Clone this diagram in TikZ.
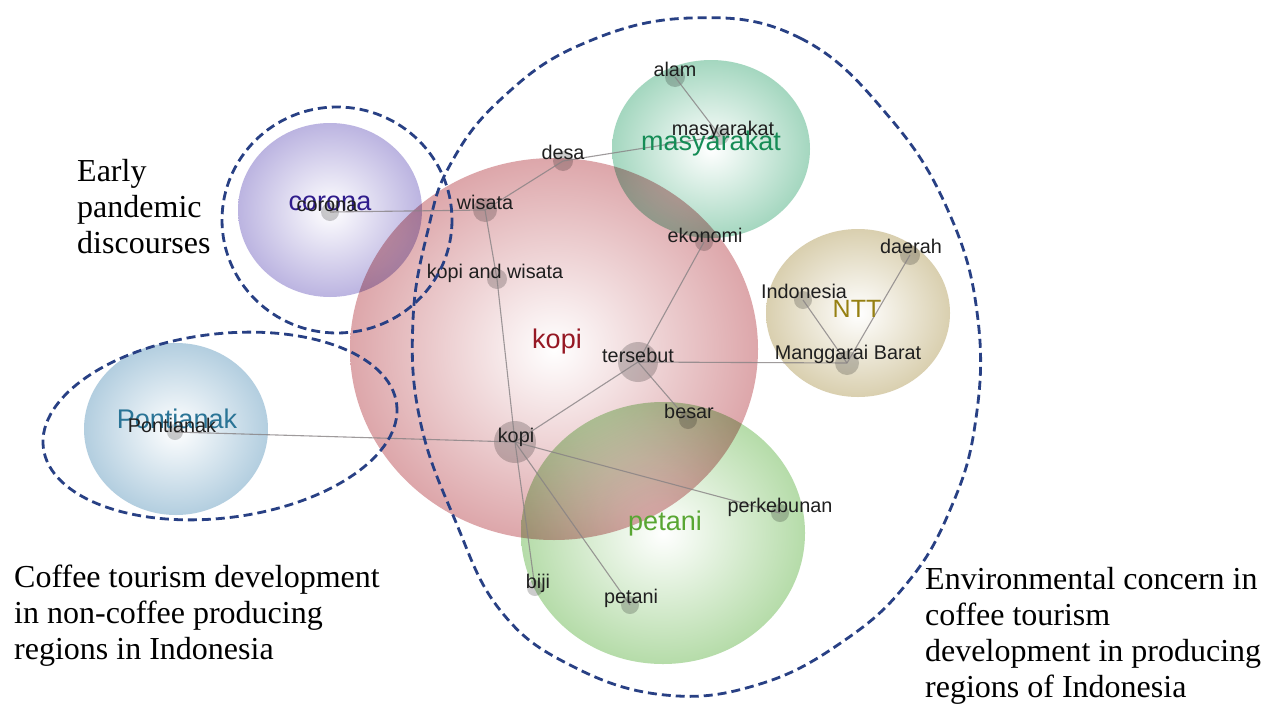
\documentclass[tikz,border=0pt]{standalone}
\usepackage{fontspec}
\setmainfont{Liberation Serif}
\newfontfamily\labelsans{Liberation Sans}
\usetikzlibrary{shapes.geometric}

% cluster colours (bubble rim and cluster label)
\definecolor{cCorona}{RGB}{146,134,206}
\definecolor{cKopi}{RGB}{200,112,118}
\definecolor{cMasy}{RGB}{108,190,152}
\definecolor{cNTT}{RGB}{194,178,126}
\definecolor{cPont}{RGB}{132,176,204}
\definecolor{cPetani}{RGB}{136,198,116}
\definecolor{tCorona}{RGB}{48,28,140}
\definecolor{tKopi}{RGB}{150,24,36}
\definecolor{tMasy}{RGB}{22,140,86}
\definecolor{tNTT}{RGB}{150,128,18}
\definecolor{tPont}{RGB}{42,116,150}
\definecolor{tPetani}{RGB}{88,166,50}
\definecolor{grpBlue}{RGB}{40,64,132}
\definecolor{linkGrey}{RGB}{135,130,132}

% white centre fading to the cluster colour at the rim
\colorlet{mCorona}{cCorona!62!white}
\colorlet{mKopi}{cKopi!62!white}
\colorlet{mMasy}{cMasy!62!white}
\colorlet{mNTT}{cNTT!62!white}
\colorlet{mPont}{cPont!62!white}
\colorlet{mPetani}{cPetani!62!white}
\pgfdeclareradialshading{bubCorona}{\pgfpoint{0bp}{0bp}}{color(0bp)=(white);color(25bp)=(mCorona);color(50bp)=(cCorona)}
\pgfdeclareradialshading{bubKopi}{\pgfpoint{0bp}{0bp}}{color(0bp)=(white);color(25bp)=(mKopi);color(50bp)=(cKopi)}
\pgfdeclareradialshading{bubMasy}{\pgfpoint{0bp}{0bp}}{color(0bp)=(white);color(25bp)=(mMasy);color(50bp)=(cMasy)}
\pgfdeclareradialshading{bubNTT}{\pgfpoint{0bp}{0bp}}{color(0bp)=(white);color(25bp)=(mNTT);color(50bp)=(cNTT)}
\pgfdeclareradialshading{bubPont}{\pgfpoint{0bp}{0bp}}{color(0bp)=(white);color(25bp)=(mPont);color(50bp)=(cPont)}
\pgfdeclareradialshading{bubPetani}{\pgfpoint{0bp}{0bp}}{color(0bp)=(white);color(25bp)=(mPetani);color(50bp)=(cPetani)}

\begin{document}
\begin{tikzpicture}[x=1pt,y=-1pt,
  bubble/.style={ellipse,inner sep=0pt,shade,draw=none},
  dot/.style={circle,inner sep=0pt,fill=black,fill opacity=0.2,draw=none},
  link/.style={draw=linkGrey,line width=1.1pt,opacity=0.8},
  term/.style={anchor=base,inner sep=0pt,text=black!88,font=\labelsans\fontsize{19.8}{22}\selectfont},
  cluster/.style={anchor=base,inner sep=0pt,font=\labelsans\fontsize{27}{30}\selectfont},
  grpline/.style={draw=grpBlue,line width=2.8pt,dash pattern=on 9pt off 5pt},
  note/.style={anchor=base west,inner sep=0pt,align=left,font=\fontsize{32}{36}\selectfont}]
\useasboundingbox (0,0) rectangle (1281,704);
\fill[white] (0,0) rectangle (1281,704);

% cluster bubbles
\begin{scope}[blend mode=multiply]
\node[bubble,shading=bubCorona,minimum width=184,minimum height=174] (bCorona) at (330,210) {};
\node[bubble,shading=bubPont,minimum width=184,minimum height=172] (bPont) at (176,429) {};
\node[bubble,shading=bubKopi,minimum width=408,minimum height=382] (bKopi) at (554,349) {};
\node[bubble,shading=bubMasy,minimum width=198,minimum height=178] (bMasy) at (711,149) {};
\node[bubble,shading=bubNTT,minimum width=184,minimum height=168] (bNTT) at (858,313) {};
\node[bubble,shading=bubPetani,minimum width=284,minimum height=262] (bPetani) at (663,533) {};
\end{scope}

% term dots
\node[dot,minimum size=18] (dCorona) at (330,212) {};
\node[dot,minimum size=16] (dPont) at (175,432) {};
\node[dot,minimum size=20] (dAlam) at (675,77) {};
\node[dot,minimum size=18] (dMasy) at (720,136) {};
\node[dot,minimum size=20] (dDesa) at (563,161) {};
\node[dot,minimum size=24] (dWisata) at (485,210) {};
\node[dot,minimum size=18] (dEkonomi) at (704,242) {};
\node[dot,minimum size=20] (dKopiWis) at (497,279) {};
\node[dot,minimum size=18] (dIndo) at (803,300) {};
\node[dot,minimum size=20] (dDaerah) at (910,255) {};
\node[dot,minimum size=24] (dMangg) at (847,363) {};
\node[dot,minimum size=40] (dTerse) at (638,362) {};
\node[dot,minimum size=18] (dBesar) at (688,420) {};
\node[dot,minimum size=42] (dKopi) at (515,442) {};
\node[dot,minimum size=18] (dPerk) at (780,513) {};
\node[dot,minimum size=16] (dBiji) at (535,588) {};
\node[dot,minimum size=18] (dPetani) at (630,605) {};

% co-occurrence links
\draw[link] (dCorona.center) -- (dWisata.center);
\draw[link] (dWisata.center) -- (dDesa.center);
\draw[link] (dDesa.center) -- (dMasy.center);
\draw[link] (dAlam.center) -- (dMasy.center);
\draw[link] (dWisata.center) -- (dKopiWis.center);
\draw[link] (dKopiWis.center) -- (dKopi.center);
\draw[link] (dEkonomi.center) -- (dTerse.center);
\draw[link] (dTerse.center) -- (dMangg.center);
\draw[link] (dTerse.center) -- (dBesar.center);
\draw[link] (dTerse.center) -- (dKopi.center);
\draw[link] (dIndo.center) -- (dMangg.center);
\draw[link] (dDaerah.center) -- (dMangg.center);
\draw[link] (dPont.center) -- (dKopi.center);
\draw[link] (dKopi.center) -- (dPerk.center);
\draw[link] (dKopi.center) -- (dPetani.center);
\draw[link] (dKopi.center) -- (dBiji.center);

% cluster labels
\node[cluster,text=tCorona] (cCoronaL) at (330,210) {corona};
\node[cluster,text=tPont] (cPontL) at (177,428) {Pontianak};
\node[cluster,text=tKopi] (cKopiL) at (557,348) {kopi};
\node[cluster,text=tMasy] (cMasyL) at (711,150) {masyarakat};
\node[cluster,text=tNTT,font=\labelsans\fontsize{25}{28}\selectfont] (cNTTL) at (857,317) {NTT};
\node[cluster,text=tPetani] (cPetaniL) at (665,530) {petani};

% term labels
\node[term] (lCorona) at (327,211) {corona};
\node[term] (lPont) at (172,432) {Pontianak};
\node[term] (lAlam) at (675,76) {alam};
\node[term] (lMasy) at (723,135) {masyarakat};
\node[term] (lDesa) at (563,159) {desa};
\node[term] (lWisata) at (485,209) {wisata};
\node[term] (lEkonomi) at (705,242) {ekonomi};
\node[term] (lKopiWis) at (495,278) {kopi and wisata};
\node[term] (lIndo) at (804,298) {Indonesia};
\node[term] (lDaerah) at (911,253) {daerah};
\node[term] (lMangg) at (848,359) {Manggarai Barat};
\node[term] (lTerse) at (638,362) {tersebut};
\node[term] (lBesar) at (689,418) {besar};
\node[term] (lKopi) at (516,442) {kopi};
\node[term] (lPerk) at (780,512) {perkebunan};
\node[term] (lBiji) at (538,588) {biji};
\node[term] (lPetani) at (631,603) {petani};

% dashed group outlines
\draw[grpline] (337,220) ellipse [x radius=115, y radius=113];
\draw[grpline,rotate around={7:(220,426)}] (220,426) ellipse [x radius=178, y radius=92];
\draw[grpline] plot[smooth cycle,tension=0.7] coordinates {
  (690,18) (800,38) (890,118) (950,215) (978,320) (975,425) (950,510)
  (908,582) (845,640) (760,684) (665,695) (570,665) (500,610) (455,520)
  (420,420) (413,320) (428,230) (450,165) (500,100) (580,45)};

% group captions (placed by the baseline of their last line)
\node[note] (nEarly) at (77,253) {Early\\pandemic\\discourses};
\node[note] (nNonProd) at (14,659) {Coffee tourism development\\in non-coffee producing\\regions in Indonesia};
\node[note] (nProd) at (925,697) {Environmental concern in\\coffee tourism\\development in producing\\regions of Indonesia};
\end{tikzpicture}
\end{document}
